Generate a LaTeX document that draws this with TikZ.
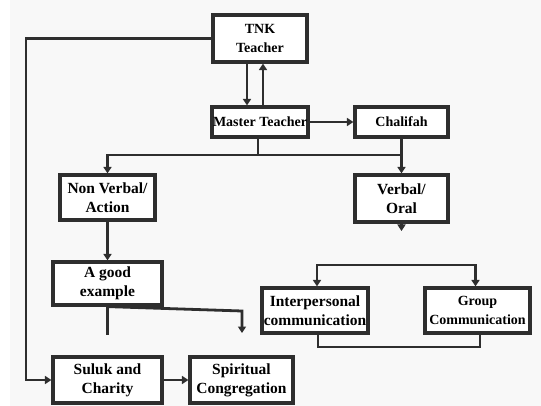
\documentclass[tikz,border=0pt]{standalone}
\usepackage{fontspec}
\setmainfont{Liberation Serif}
\usetikzlibrary{arrows.meta}
\definecolor{ink}{HTML}{2E2E2E}
\definecolor{paper}{HTML}{F8F8F8}
\tikzset{
  box/.style={draw=ink, line width=3.2pt, fill=white, align=center, inner sep=1pt,
    font=\fontsize{15.5}{19}\selectfont\bfseries, text=black},
  smalltext/.style={font=\fontsize{14}{19}\selectfont\bfseries},
  conn/.style={draw=ink, line width=2.8pt},
  arr/.style={conn, -{Triangle[length=6.5pt,width=8pt]}},
}
\begin{document}
\begin{tikzpicture}[x=1pt,y=-1pt]
\useasboundingbox (0,0) rectangle (541,406);
\fill[white] (0,0) rectangle (541,406);
\fill[paper] (10,0) rectangle (541,406);

\node[box, smalltext, minimum width=94pt, minimum height=47pt] (tnk) at (260,38.5) {TNK\\Teacher};
\node[box, smalltext, minimum width=94pt, minimum height=30pt] (master) at (260,122) {Master Teacher};
\node[box, smalltext, minimum width=93pt, minimum height=30pt] (chal) at (401.5,122) {Chalifah};
\node[box, minimum width=95pt, minimum height=45pt] (nonv) at (107.5,197.5) {Non Verbal/\\Action};
\node[box, minimum width=93pt, minimum height=47pt] (verbal) at (401.5,198.5) {Verbal/\\Oral};
\node[box, minimum width=109pt, minimum height=43pt] (good) at (107.5,283.5) {A good\\example};
\node[box, minimum width=106pt, minimum height=45pt] (inter) at (315,310.5) {Interpersonal\\communication};
\node[box, smalltext, minimum width=105pt, minimum height=45pt] (group) at (477.5,310.5) {Group\\Communication};
\node[box, minimum width=109pt, minimum height=46pt] (suluk) at (107.5,380) {Suluk and\\Charity};
\node[box, minimum width=103pt, minimum height=46pt] (spirit) at (241.5,380) {Spiritual\\Congregation};

% left long connector
\coordinate (lt) at (26,38.5);
\draw[arr] (tnk.west) -- (lt) |- (suluk.west);

% TNK <-> Master
\draw[arr] ([xshift=-13pt]tnk.south) -- ([xshift=-13pt]master.north);
\draw[arr] ([xshift=3pt]master.north) -- ([xshift=3pt]tnk.south);

% Master -> Chalifah
\draw[arr] (master.east) -- (chal.west);

% branch
\coordinate (j) at (258,155);
\draw[conn] ([xshift=-2pt]master.south) -- (j);
\draw[arr] (j) -| (nonv.north);
\draw[conn] (j) -- (chal.south |- j);
\draw[arr] (chal.south) -- (verbal.north);

% verbal stub
\coordinate (vs) at (401.5,231);
\draw[arr] (verbal.south) -- (vs);

% non verbal -> good
\draw[arr] (nonv.south) -- (good.south |- good.north);

% good stub and slanted connector
\coordinate (gs) at (107.5,335);
\draw[conn] (good.south) -- (gs);
\coordinate (gk) at (242,311);
\coordinate (gt) at (242,333);
\draw[arr] (good.south) -- (gk) -- (gt);

% top bracket
\coordinate (tb) at (396,265);
\draw[arr] (tb) -| ([xshift=2pt]inter.north);
\draw[arr] (tb) -| ([xshift=-2pt]group.north);

% bottom bracket
\coordinate (bb) at (396,347);
\draw[conn] ([xshift=3pt]inter.south) |- (bb);
\draw[conn] (bb) -| ([xshift=2.5pt]group.south);

% suluk -> spiritual
\draw[arr] (suluk.east) -- (spirit.west);
\end{tikzpicture}
\end{document}
